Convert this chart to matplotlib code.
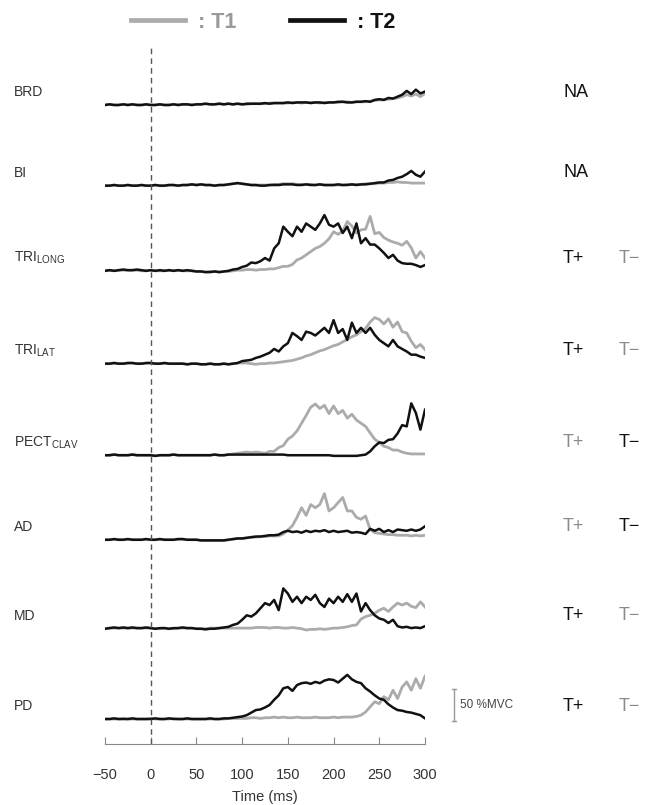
import numpy as np
import matplotlib.pyplot as plt
from matplotlib.lines import Line2D

plt.rcParams['font.family'] = ['Liberation Sans', 'DejaVu Sans']
plt.rcParams['mathtext.default'] = 'regular'

# sample times (ms), one every 5 ms
time = np.arange(-50, 301, 5)

muscles = ['BRD', 'BI', 'TRI$_{LONG}$', 'TRI$_{LAT}$', 'PECT$_{CLAV}$', 'AD', 'MD', 'PD']

# EMG envelopes in %MVC
brd_t1 = [0, 1, 0, 0, 1, 0, 1, 0, 0, 1, 0, 0, 1, 0, 0, 1, 0, 1, 1, 0, 1, 1, 2, 1, 1, 2, 1, 2, 1, 2,
          1, 1, 2, 2, 2, 2, 3, 3, 3, 3, 3, 4, 4, 3, 4, 4, 4, 3, 4, 4, 4, 4, 5, 5, 4, 5, 5, 5, 6,
          7, 8, 8, 9, 10, 11, 13, 16, 14, 17, 13, 18]
brd_t2 = [0, 1, 0, 0, 1, 0, 1, 0, 0, 1, 0, 0, 1, 0, 0, 1, 0, 1, 1, 0, 1, 1, 2, 1, 1, 2, 1, 2, 1, 2,
          1, 2, 2, 2, 2, 3, 2, 3, 3, 3, 4, 3, 4, 4, 4, 3, 4, 4, 3, 4, 4, 5, 5, 4, 4, 5, 5, 6, 5,
          8, 9, 8, 11, 10, 13, 16, 22, 17, 24, 18, 21]

bi_t1 = [0, 0, 1, 0, 0, 1, 0, 0, 1, 0, 0, 1, 0, 0, 1, 1, 0, 1, 1, 2, 1, 2, 1, 1, 0, 1, 1, 2, 3, 4,
         3, 2, 1, 1, 1, 1, 1, 2, 2, 3, 3, 3, 2, 2, 2, 2, 1, 2, 1, 1, 1, 1, 1, 2, 2, 2, 2, 3, 3,
         3, 4, 4, 5, 5, 6, 5, 5, 4, 4, 4, 4]
bi_t2 = [0, 0, 1, 0, 0, 1, 0, 0, 1, 0, 0, 1, 0, 0, 1, 1, 0, 1, 1, 2, 1, 2, 1, 1, 0, 1, 1, 2, 3, 4,
         3, 2, 1, 1, 0, 0, 1, 1, 1, 2, 2, 2, 1, 1, 2, 1, 1, 2, 1, 1, 1, 2, 1, 1, 2, 1, 2, 2, 3,
         4, 5, 5, 8, 9, 12, 14, 18, 23, 17, 14, 22]

tri_long_t1 = [0, 1, 0, 1, 1, 1, 1, 1, 0, 0, 1, 0, 0, 0, 1, 0, 1, 0, 0, 0, -1, -1, -2, -1, -1, -2, -1, -1, 0, 1,
               1, 2, 2, 1, 2, 2, 3, 3, 5, 7, 7, 10, 17, 20, 25, 30, 35, 38, 43, 50,
               61, 57, 62, 77, 70, 59, 64, 65, 85, 58, 60, 52, 48, 45, 43, 40, 46, 36, 20, 30, 20]
tri_long_t2 = [0, 1, 0, 1, 2, 1, 1, 2, 1, 0, 1, 0, 1, 0, 1, 0, 1, 0, 1, 0, -1, -1, -2, -2, -1, -2, -1, 0, 2, 3,
               6, 8, 13, 12, 15, 20, 16, 35, 43, 69, 61, 54, 69, 61, 74, 69, 64, 74, 87, 72,
               69, 74, 59, 69, 51, 74, 43, 51, 41, 41, 35, 28, 20, 25, 16, 12, 11, 11, 9, 6, 9]

tri_lat_t1 = [0, 0, 1, 0, 0, 1, 1, 0, 0, 1, 1, 0, 0, 1, 0, 0, 0, 0, -1, 0, 0, -1, -1, 0, -1, -1, 0, -1, 0, 1,
              1, 1, 0, -1, 0, 0, 1, 1, 2, 3, 4, 5, 7, 9, 12, 14, 17, 20, 22, 25,
              28, 30, 34, 38, 42, 45, 50, 55, 65, 72, 69, 62, 70, 57, 65, 50, 48, 35, 25, 30, 22]
tri_lat_t2 = [0, 0, 1, 0, 0, 1, 1, 0, 0, 1, 1, 0, 0, 1, 0, 0, 0, 0, -1, 0, 0, -1, -1, 0, -1, -1, 0, -1, 0, 1,
              4, 5, 6, 9, 11, 14, 17, 23, 19, 27, 32, 48, 43, 37, 50, 48, 44, 50, 56, 48,
              68, 48, 54, 37, 64, 48, 56, 48, 56, 45, 37, 32, 27, 37, 27, 23, 19, 14, 14, 11, 9]

pect_t1 = [0, 0, 1, 0, 0, 0, 1, 0, 0, 0, 0, -1, 0, 0, 0, 1, 0, 0, 0, 0, 0, 0, 0, 0, 1, 0, 0, 1, 2, 3,
           4, 5, 4, 5, 4, 3, 6, 6, 12, 15, 25, 30, 38, 50, 62, 75, 80, 73, 78, 65,
           77, 65, 70, 58, 64, 55, 50, 45, 35, 25, 20, 14, 12, 8, 8, 5, 3, 2, 2, 2, 2]
pect_t2 = [0, 0, 1, 0, 0, 0, 1, 0, 0, 0, 0, -1, 0, 0, 0, 1, 0, 0, 0, 0, 0, 0, 0, 0, 1, 0, 0, 1, 1, 1,
           1, 1, 1, 1, 1, 1, 1, 1, 1, 1, 0, 0, 0, 0, 0, 0, 0, 0, 0, 0,
           -1, -1, -1, -1, -1, -1, 0, 1, 6, 14, 20, 19, 24, 25, 34, 47, 45, 81, 66, 40, 71]

ad_t1 = [0, 0, 1, 0, 0, 1, 0, 0, 0, 1, 0, 0, 1, 0, 0, 0, 1, 1, 0, 0, 0, -1, -1, -1, -1, -1, -1, 0, 1, 2,
         2, 3, 4, 4, 5, 5, 6, 6, 6, 9, 15, 22, 35, 50, 38, 55, 50, 55, 72, 45,
         50, 58, 66, 45, 45, 35, 32, 37, 16, 11, 10, 9, 8, 8, 7, 7, 7, 6, 7, 6, 7]
ad_t2 = [0, 0, 1, 0, 0, 1, 0, 0, 0, 1, 0, 0, 1, 0, 0, 0, 1, 1, 0, 0, 0, -1, -1, -1, -1, -1, -1, 0, 1, 2,
         2, 3, 4, 5, 5, 6, 7, 7, 8, 12, 14, 12, 13, 11, 14, 12, 14, 13, 15, 12,
         14, 12, 13, 14, 11, 12, 11, 9, 17, 14, 17, 12, 15, 12, 16, 15, 14, 16, 14, 16, 21]

md_t1 = [0, 1, 1, 1, 1, 1, 1, 1, 1, 1, 1, 0, 0, 1, 0, 0, 1, 1, 1, 1, 0, 0, 0, 1, 1, 1, 1, 1, 1, 1,
         1, 1, 1, 2, 2, 2, 1, 2, 2, 1, 1, 2, 1, 0, -2, -1, -1, 0, -1, 0,
         1, 1, 2, 3, 5, 6, 15, 19, 21, 24, 29, 32, 27, 34, 40, 37, 40, 35, 33, 42, 34]
md_t2 = [0, 1, 2, 1, 2, 1, 2, 1, 1, 2, 1, 0, 1, 1, 0, 1, 1, 2, 1, 1, 0, 0, -1, 0, 0, 1, 2, 3, 6, 8,
         14, 21, 19, 24, 32, 40, 37, 45, 29, 63, 55, 42, 50, 40, 50, 45, 53, 40, 34, 47,
         40, 50, 42, 54, 42, 55, 27, 40, 29, 21, 16, 14, 9, 14, 4, 2, 3, 1, 2, 1, 4]

pd_t1 = [0, 0, 0, 0, 1, 0, 0, 0, 0, 0, 1, 0, 0, 0, 0, 1, 0, 0, 0, 0, 0, 0, 0, 0, 0, 0, 0, 1, 1, 1,
         1, 1, 2, 2, 1, 2, 2, 3, 2, 3, 2, 2, 3, 2, 2, 2, 3, 2, 2, 2,
         3, 2, 3, 3, 3, 4, 6, 11, 19, 27, 24, 35, 30, 45, 32, 50, 58, 45, 63, 48, 67]
pd_t2 = [0, 0, 1, 0, 0, 0, 1, 0, 0, 0, 0, 1, 0, 0, 1, 0, 0, 0, 1, 0, 0, 0, 0, 1, 0, 0, 1, 1, 2, 3,
         4, 6, 10, 14, 15, 18, 22, 30, 37, 48, 50, 44, 53, 56, 57, 55, 58, 56, 60, 62,
         61, 57, 63, 69, 62, 58, 56, 48, 43, 37, 32, 30, 23, 18, 14, 13, 11, 10, 8, 6, 1]

t1_traces = [brd_t1, bi_t1, tri_long_t1, tri_lat_t1, pect_t1, ad_t1, md_t1, pd_t1]
t2_traces = [brd_t2, bi_t2, tri_long_t2, tri_lat_t2, pect_t2, ad_t2, md_t2, pd_t2]

# which trial is "T+" per muscle ('NA' = not assessed)
labels_right = ['NA', 'NA', 'T2', 'T2', 'T1', 'T1', 'T2', 'T2']

# vertical offset of each trace (%MVC)
offsets = [959, 833, 700, 555, 412, 280, 141, 0]

gray = '#ababab'
dark = '#111111'

fig = plt.figure(figsize=(6.46, 8.05), dpi=100)
ax = fig.add_axes([105 / 646, 61 / 805, 320 / 646, 696 / 805])

for i in range(len(muscles)):
    ax.plot(time, np.array(t1_traces[i]) + offsets[i], color=gray, lw=2.0, solid_joinstyle='round')
    ax.plot(time, np.array(t2_traces[i]) + offsets[i], color=dark, lw=1.8, solid_joinstyle='round')
    ax.text(-150, offsets[i] + 20, muscles[i], fontsize=10, color='#333333', ha='left', va='center',
            clip_on=False)
    if labels_right[i] == 'NA':
        ax.text(451, offsets[i] + 20, 'NA', fontsize=13, color=dark, ha='left', va='center')
    else:
        plus_col = dark if labels_right[i] == 'T2' else '#8a8a8a'
        minus_col = '#8a8a8a' if labels_right[i] == 'T2' else dark
        ax.text(451, offsets[i] + 20, 'T+', fontsize=13, color=plus_col, ha='left', va='center')
        ax.text(512, offsets[i] + 20, 'T\u2212', fontsize=13, color=minus_col, ha='left', va='center')

ax.axvline(0, color='#555555', lw=1, ls=(0, (4, 3)))

# scale bar: 50 %MVC
ax.plot([332, 332], [-3, 47], color='#999999', lw=1, clip_on=False)
ax.plot([330, 334], [-3, -3], color='#999999', lw=1, clip_on=False)
ax.plot([330, 334], [47, 47], color='#999999', lw=1, clip_on=False)
ax.text(338, 22, '50 %MVC', fontsize=8.5, color='#444444', ha='left', va='center')

ax.set_xlim(-50, 300)
ax.set_ylim(-39, 1048)
ax.set_xticks(range(-50, 301, 50))
ax.set_xticklabels(['\u221250', '0', '50', '100', '150', '200', '250', '300'])
ax.tick_params(axis='x', direction='in', length=5, color='#888888', labelsize=10.5,
               labelcolor='#333333', pad=17)
ax.set_yticks([])
for s in ['top', 'right', 'left']:
    ax.spines[s].set_visible(False)
ax.spines['bottom'].set_color('#888888')
ax.set_xlabel('Time (ms)', fontsize=10.5, color='#333333', labelpad=6)

handles = [Line2D([], [], color=gray, lw=3.4), Line2D([], [], color=dark, lw=3.4)]
leg = fig.legend(handles, [': T1', ': T2'], loc='center', bbox_to_anchor=(263 / 646, 1 - 22 / 805),
                 ncol=2, frameon=False, prop={'weight': 'bold', 'size': 15.5},
                 handlelength=2.5, handletextpad=0.6, columnspacing=2.5, borderpad=0)
leg.get_texts()[0].set_color('#999999')
leg.get_texts()[1].set_color(dark)

fig.savefig('out.png', dpi=100)
